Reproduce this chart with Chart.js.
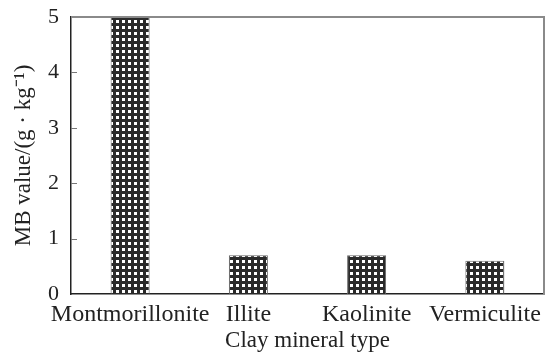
<!DOCTYPE html>
<html>
<head>
<meta charset="utf-8">
<script src="https://cdn.jsdelivr.net/npm/chart.js@4/dist/chart.umd.min.js"></script>
<style>
  html, body { margin: 0; padding: 0; background: #fff; }
  #wrap { width: 548px; height: 355px; }
</style>
</head>
<body>
<div id="wrap"><canvas id="grafico" width="548" height="355"></canvas></div>
<script>
// dados
const categorias = ['Montmorillonite', 'Illite', 'Kaolinite', 'Vermiculite'];
const valoresMB  = [5.0, 0.7, 0.7, 0.6];
const ticksY     = [0, 1, 2, 3, 4, 5];

const FONTE = '"Liberation Serif", "Times New Roman", serif';

// textura pontilhada das barras
function criarPadrao() {
  const c = document.createElement('canvas');
  c.width = 6; c.height = 6;
  const g = c.getContext('2d');
  g.fillStyle = '#2a2a2a';
  g.fillRect(0, 0, 6, 6);
  g.fillStyle = '#ffffff';
  g.fillRect(2, 2, 3, 3);
  return g.createPattern(c, 'repeat');
}

// moldura (topo/direita) e marcas internas do eixo y
const moldura = {
  id: 'moldura',
  afterDraw(chart) {
    const { ctx, chartArea: a, scales } = chart;
    ctx.save();
    ctx.strokeStyle = '#8a8a8a';
    ctx.lineWidth = 2;
    ctx.beginPath();
    ctx.moveTo(a.left, a.top);
    ctx.lineTo(a.right, a.top);
    ctx.lineTo(a.right, a.bottom);
    ctx.stroke();
    ctx.lineWidth = 1;
    ctx.strokeStyle = '#777';
    ticksY.slice(1, -1).forEach(v => {
      const y = Math.round(scales.y.getPixelForValue(v)) + 0.5;
      ctx.beginPath();
      ctx.moveTo(a.left, y);
      ctx.lineTo(a.left + 6, y);
      ctx.stroke();
    });
    ctx.restore();
  }
};

const ctx = document.getElementById('grafico').getContext('2d');
new Chart(ctx, {
  type: 'bar',
  data: {
    labels: categorias,
    datasets: [{
      data: valoresMB,
      backgroundColor: criarPadrao(),
      borderColor: '#666',
      borderWidth: 1,
      barPercentage: 0.33,
      categoryPercentage: 1
    }]
  },
  options: {
    responsive: false,
    animation: false,
    layout: { padding: { left: 10, right: 4, top: 17, bottom: 0 } },
    plugins: { legend: { display: false }, tooltip: { enabled: false } },
    scales: {
      x: {
        grid: { display: false, drawTicks: false },
        border: { color: '#222', width: 1.5 },
        ticks: { color: '#222', font: { family: FONTE, size: 24 }, padding: 6, maxRotation: 0, autoSkip: false },
        title: { display: true, text: 'Clay mineral type', color: '#222', font: { family: FONTE, size: 23 }, padding: { top: 0, bottom: 0 } },
        afterFit: s => { s.height = 61; s.paddingLeft = 0; s.paddingRight = 0; }
      },
      y: {
        min: 0, max: 5,
        afterBuildTicks: s => { s.ticks = ticksY.map(v => ({ value: v })); },
        grid: { display: false, drawTicks: false },
        border: { color: '#222', width: 1.5 },
        ticks: { color: '#222', font: { family: FONTE, size: 22 }, padding: 12 },
        title: { display: true, text: 'MB value/(g · kg⁻¹)', color: '#222', font: { family: FONTE, size: 23 }, padding: 0 },
        afterFit: s => { s.width = 61; s.paddingTop = 0; s.paddingBottom = 0; }
      }
    }
  },
  plugins: [moldura]
});
</script>
</body>
</html>
